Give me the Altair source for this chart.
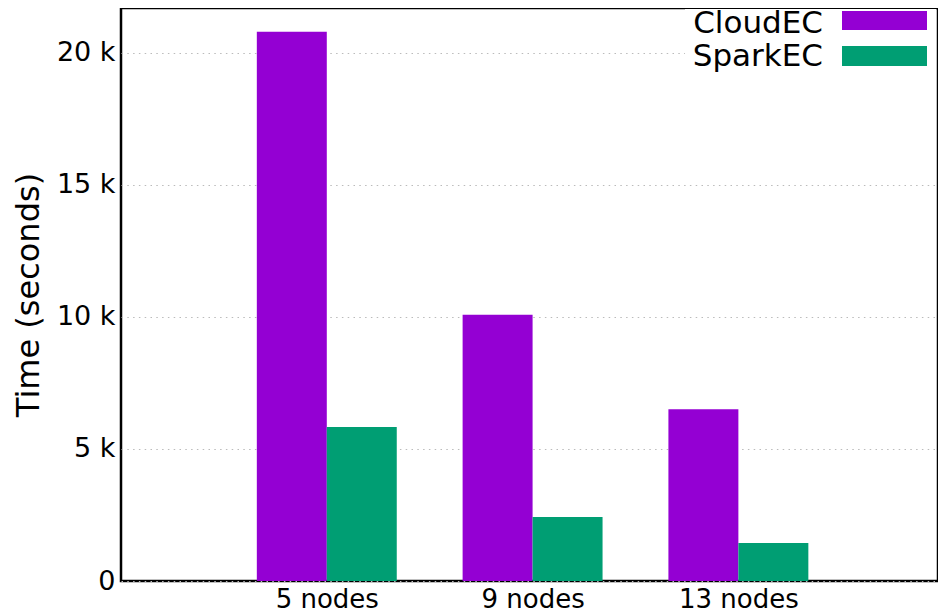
import json
import altair as alt
import pandas as pd

groups = ["5 nodes", "9 nodes", "13 nodes"]
series = ["CloudEC", "SparkEC"]
cloudec = [20800, 10080, 6500]
sparkec = [5830, 2420, 1440]
colors = ["#9400D3", "#009E73"]
y_ticks = [0, 5000, 10000, 15000, 20000]

rows = []
for i, g in enumerate(groups):
    rows.append({"idx": i, "group": g, "series": "CloudEC", "value": cloudec[i]})
    rows.append({"idx": i, "group": g, "series": "SparkEC", "value": sparkec[i]})
df = pd.DataFrame(rows)

W, H = 817, 573
FONT = "DejaVu Sans"

bars = alt.Chart(df).transform_calculate(
    x0="datum.idx + (datum.series == 'CloudEC' ? -0.34 : 0)",
    x1="datum.idx + (datum.series == 'CloudEC' ? 0 : 0.34)",
).mark_rect().encode(
    x=alt.X("x0:Q", scale=alt.Scale(domain=[-1, 2.97], nice=False, zero=False),
            axis=alt.Axis(values=[0, 1, 2], labelExpr=json.dumps(groups) + "[datum.value]",
                          title=None, grid=False, ticks=False, domain=False,
                          labelFontSize=26, labelFont=FONT, labelColor="black",
                          labelPadding=5)),
    x2="x1:Q",
    y=alt.Y("value:Q", scale=alt.Scale(domain=[0, 21700], nice=False),
            axis=alt.Axis(values=y_ticks,
                          labelExpr="datum.value == 0 ? '0' : (datum.value/1000) + ' k'",
                          title="Time (seconds)", titleFontSize=32, titleFont=FONT,
                          titleFontWeight="normal", titleColor="black", titlePadding=11,
                          grid=True, gridDash=[1.5, 4.3], gridColor="#bbbbbb", gridWidth=1.2,
                          ticks=False, domain=False, labelFontSize=27, labelFont=FONT,
                          labelColor="black", labelPadding=6)),
    color=alt.Color("series:N", scale=alt.Scale(domain=series, range=colors), legend=None),
)

layers = [bars]
# legend background (opaque key box, as in the reference)
layers.append(alt.Chart(pd.DataFrame({"a": [0]})).mark_rect(color="white").encode(
    x=alt.value(564), x2=alt.value(815), y=alt.value(1), y2=alt.value(68)))
leg_text_y = [25, 58]
leg_rect_y = [(3, 22), (38, 58)]
for k, s in enumerate(series):
    d = pd.DataFrame({"series": [s]})
    layers.append(alt.Chart(d).mark_text(align="right", baseline="alphabetic", fontSize=31,
                                         font=FONT, color="black").encode(
        x=alt.value(702), y=alt.value(leg_text_y[k]), text="series:N"))
    layers.append(alt.Chart(d).mark_rect(color=colors[k]).encode(
        x=alt.value(721), x2=alt.value(806),
        y=alt.value(leg_rect_y[k][0]), y2=alt.value(leg_rect_y[k][1])))

chart = alt.layer(*layers).properties(
    width=W, height=H,
    background="white",
    autosize=alt.AutoSizeParams(type="none"),
    padding={"left": 113, "top": 0, "right": 0, "bottom": 33},
).configure_view(stroke="black", strokeWidth=2.5)

chart.save("out.html", embed_options={"renderer": "svg", "actions": False})
